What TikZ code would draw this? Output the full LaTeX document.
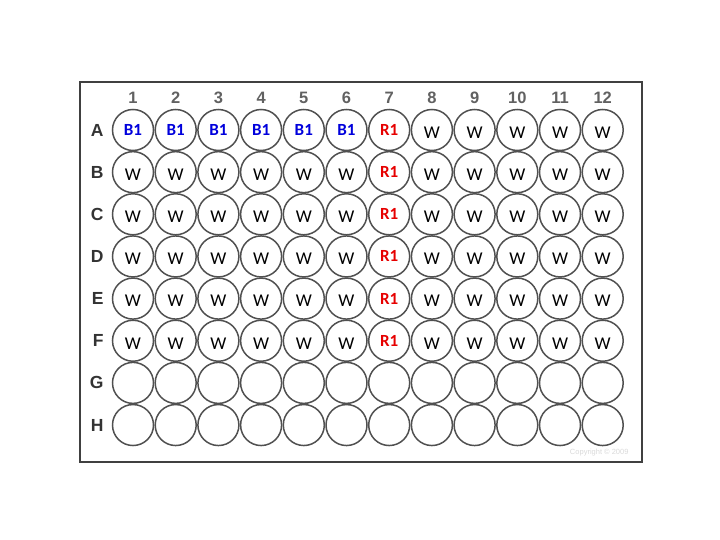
\documentclass[tikz,border=0pt]{standalone}
\usepackage{fontspec}
\setmainfont{Carlito}
\newfontfamily\platefont{Liberation Sans}
\definecolor{wellblue}{RGB}{0,0,220}
\definecolor{wellred}{RGB}{230,0,0}
\definecolor{rimgray}{RGB}{80,80,80}
\usetikzlibrary{positioning}

\tikzset{
  well/.style={circle, draw=rimgray, line width=1.5pt, minimum size=41pt, inner sep=0pt},
  colnum/.style={inner sep=0pt, text=black!62, font=\platefont\bfseries\fontsize{16.5}{16.5}\selectfont},
  rowlet/.style={inner sep=0pt, text=black!80, font=\platefont\bfseries\fontsize{17.5}{17.5}\selectfont},
  wlabel/.style={yshift=-2.5pt, font=\fontsize{18}{18}\selectfont},
  blabel/.style={text=wellblue, font=\bfseries\fontsize{17}{17}\selectfont},
  rlabel/.style={text=wellred, font=\bfseries\fontsize{17}{17}\selectfont}
}

\begin{document}
\begin{tikzpicture}[x=1pt, y=1pt]
  \useasboundingbox (0,0) rectangle (720,540);

  % plate
  \draw [line width=1.3pt, draw=black!75] (80,78) rectangle (642,458);

  % wells, row letters
  \foreach \r [count=\i from 0] in {A,B,C,D,E,F,G,H} {
    \foreach \c in {1,...,12}
      \node[well] (w\r\c) at ({133+(\c-1)*42.7}, {410-\i*42.15}) {};
    \node[rowlet, left=8pt of w\r1] (row\r) {\r};
  }

  % column numbers
  \foreach \c in {1,...,12}
    \node[colnum, above=5pt of wA\c] (col\c) {\c};

  % contents
  \foreach \c in {1,...,6}
    \node[blabel] (tA\c) at (wA\c) {B1};
  \foreach \r in {A,B,C,D,E,F}
    \node[rlabel] (t\r7) at (w\r7) {R1};
  \foreach \c in {8,9,10,11,12}
    \node[wlabel] (tA\c) at (wA\c) {W};
  \foreach \r in {B,C,D,E,F}
    \foreach \c in {1,2,3,4,5,6,8,9,10,11,12}
      \node[wlabel] (t\r\c) at (w\r\c) {W};

  \node[anchor=east, text=black!15, font=\platefont\fontsize{7.5}{7.5}\selectfont] (copy) at (632,87) {Copyright © 2009};
\end{tikzpicture}
\end{document}
